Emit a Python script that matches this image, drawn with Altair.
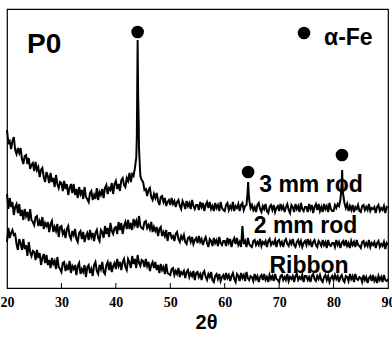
import altair as alt
import pandas as pd

# 2-theta scan grid (degrees), 0.25 deg step from 20 to 90
two_theta = [20 + 0.25 * i for i in range(281)]

# Diffracted intensity (arb. units), one row per 5 degrees
counts_3mm = [
    158, 145, 147, 139, 147, 151, 138, 134, 140, 135, 140, 129, 124, 132, 133, 124, 130, 119, 123, 125,
    117, 126, 118, 121, 111, 118, 120, 111, 106, 116, 112, 105, 115, 106, 110, 101, 113, 104, 100, 106,
    105, 97, 107, 99, 104, 93, 100, 104, 95, 104, 93, 99, 90, 101, 94, 98, 89, 101, 91, 89,
    86, 95, 97, 88, 93, 89, 100, 88, 96, 93, 99, 90, 100, 103, 94, 100, 98, 105, 94, 104,
    107, 99, 104, 97, 108, 110, 103, 101, 110, 107, 115, 106, 114, 112, 120, 130, 248, 140, 112, 108,
    106, 98, 99, 92, 98, 100, 91, 88, 94, 90, 95, 87, 83, 91, 92, 86, 90, 82, 86, 88,
    83, 90, 84, 87, 81, 86, 88, 82, 79, 87, 84, 79, 87, 82, 85, 79, 88, 82, 79, 83,
    83, 78, 86, 81, 85, 77, 83, 86, 80, 86, 79, 82, 77, 85, 80, 83, 77, 86, 80, 78,
    77, 83, 85, 78, 82, 79, 86, 77, 82, 80, 84, 77, 83, 85, 78, 82, 83, 100, 88, 80,
    83, 78, 81, 76, 83, 85, 79, 76, 82, 79, 84, 77, 75, 81, 83, 78, 83, 76, 80, 82,
    77, 84, 79, 82, 76, 81, 84, 78, 75, 83, 81, 76, 84, 79, 82, 76, 85, 79, 77, 81,
    81, 76, 84, 79, 83, 75, 81, 84, 78, 84, 77, 81, 76, 84, 79, 82, 76, 85, 79, 77,
    77, 83, 80, 84, 82, 88, 108, 94, 85, 80, 84, 77, 82, 78, 83, 76, 81, 79, 83, 77,
    76, 82, 83, 78, 81, 78, 84, 77, 80, 79, 81, 75, 81, 83, 77, 80, 78, 82, 75, 81,
    80,
]
counts_2mm = [
    94, 79, 90, 81, 86, 73, 81, 84, 75, 84, 72, 78, 68, 79, 72, 76, 67, 79, 68, 66,
    63, 71, 72, 62, 67, 62, 71, 59, 65, 62, 66, 56, 64, 67, 56, 61, 57, 64, 51, 61,
    62, 54, 57, 50, 59, 62, 52, 49, 57, 53, 59, 49, 46, 55, 57, 49, 56, 46, 52, 55,
    48, 58, 51, 55, 47, 55, 58, 50, 47, 58, 56, 50, 62, 54, 60, 51, 65, 57, 54, 60,
    61, 54, 66, 58, 65, 54, 62, 66, 59, 68, 59, 65, 58, 69, 63, 67, 60, 72, 62, 60,
    59, 66, 67, 60, 63, 59, 66, 56, 61, 57, 61, 52, 59, 61, 52, 56, 52, 58, 47, 55,
    55, 50, 52, 47, 54, 56, 49, 46, 52, 49, 53, 46, 44, 50, 51, 46, 51, 44, 48, 50,
    45, 52, 46, 49, 43, 48, 51, 45, 41, 49, 47, 42, 50, 45, 48, 42, 51, 45, 43, 47,
    47, 42, 50, 45, 49, 41, 47, 50, 44, 50, 43, 46, 41, 62, 44, 47, 41, 50, 44, 42,
    41, 47, 48, 43, 46, 43, 49, 42, 46, 44, 47, 41, 47, 49, 43, 46, 44, 48, 41, 47,
    48, 43, 46, 41, 47, 49, 44, 42, 47, 44, 49, 43, 41, 46, 48, 43, 47, 41, 45, 47,
    43, 49, 44, 47, 41, 46, 48, 43, 41, 47, 45, 42, 48, 43, 46, 40, 48, 43, 42, 45,
    45, 41, 48, 43, 46, 40, 45, 47, 42, 48, 42, 45, 40, 47, 43, 46, 41, 48, 43, 42,
    40, 46, 47, 42, 45, 42, 48, 41, 45, 43, 46, 40, 45, 47, 41, 44, 42, 46, 39, 45,
    43,
]
counts_ribbon = [
    46, 60, 50, 55, 58, 53, 54, 44, 38, 49, 45, 38, 49, 39, 43, 32, 46, 36, 32, 37,
    36, 28, 38, 30, 35, 23, 30, 34, 25, 33, 23, 28, 20, 30, 24, 27, 19, 31, 21, 19,
    16, 25, 26, 17, 22, 18, 27, 15, 22, 19, 23, 13, 22, 25, 14, 19, 16, 23, 11, 21,
    23, 15, 19, 12, 23, 26, 17, 14, 23, 19, 26, 16, 14, 23, 26, 18, 26, 16, 22, 25,
    19, 29, 22, 26, 18, 26, 29, 21, 18, 29, 26, 20, 32, 24, 29, 20, 33, 25, 22, 28,
    27, 21, 29, 22, 26, 17, 23, 26, 20, 26, 18, 23, 15, 24, 18, 21, 14, 24, 15, 14,
    13, 19, 20, 13, 17, 14, 20, 11, 16, 14, 17, 10, 16, 18, 11, 15, 12, 17, 8, 15,
    16, 11, 14, 8, 15, 17, 11, 8, 14, 11, 16, 8, 6, 12, 14, 9, 14, 7, 11, 13,
    8, 15, 10, 13, 7, 12, 15, 9, 6, 14, 12, 7, 15, 10, 13, 7, 16, 10, 8, 12,
    11, 7, 14, 9, 12, 6, 11, 13, 8, 14, 8, 11, 6, 13, 9, 12, 7, 14, 9, 8,
    6, 12, 13, 8, 11, 8, 14, 7, 11, 9, 12, 6, 12, 14, 8, 11, 9, 13, 6, 12,
    12, 8, 11, 6, 12, 14, 9, 7, 12, 9, 13, 8, 6, 11, 13, 8, 12, 6, 10, 12,
    8, 13, 9, 12, 6, 11, 13, 8, 6, 12, 11, 7, 14, 9, 12, 6, 14, 9, 8, 11,
    10, 6, 13, 8, 11, 5, 10, 12, 7, 13, 7, 10, 5, 12, 8, 11, 6, 13, 8, 7,
    9,
]

# Finer sampling across the alpha-Fe reflections of the 3 mm rod
peak_theta_3mm = [43.85, 43.95, 44.1, 44.2, 64.15, 64.3, 64.4, 81.4, 81.58, 81.68]
peak_counts_3mm = [150, 215, 190, 165, 92, 106, 96, 97, 118, 100]

# alpha-Fe markers above the reflections, plus the key marker
fe_theta = [44.0, 64.3, 81.55, 74.57]
fe_counts = [256, 116, 133, 255]

sample_names = ["3 mm rod", "2 mm rod", "Ribbon"]
sample_label_theta = [75.85, 74.84, 75.48]
sample_label_counts = [103, 62, 22]

tick_theta = [30, 40, 50, 60, 70, 80]
axis_values = [20, 30, 40, 50, 60, 70, 80, 90]

rows = []
for name, vals in zip(sample_names, [counts_3mm, counts_2mm, counts_ribbon]):
    for t, c in zip(two_theta, vals):
        rows.append({"two_theta": t, "counts": c, "sample": name})
for t, c in zip(peak_theta_3mm, peak_counts_3mm):
    rows.append({"two_theta": t, "counts": c, "sample": "3 mm rod"})
scan = pd.DataFrame(rows)

x_scale = alt.Scale(domain=[20, 90], nice=False, zero=False)
y_scale = alt.Scale(domain=[0, 279], nice=False, zero=False)

x_enc = alt.X(
    "two_theta:Q",
    scale=x_scale,
    axis=alt.Axis(
        values=axis_values,
        title="2θ",
        titleFont="Liberation Sans",
        titleFontSize=20,
        titleFontWeight="bold",
        titleColor="black",
        titlePadding=3,
        titleX=199,
        labelFont="Liberation Serif",
        labelFontSize=14,
        labelFontWeight="bold",
        labelColor="black",
        labelPadding=7,
        labelFlush=False,
        labelOverlap=False,
        ticks=False,
        tickSize=0,
        domain=False,
        grid=False,
    ),
)
y_enc = alt.Y("counts:Q", scale=y_scale, axis=None)

lines = alt.Chart(scan).mark_line(color="black", strokeWidth=2).encode(
    x=x_enc, y=y_enc, detail="sample:N"
)

ticks = alt.Chart(pd.DataFrame({"t": tick_theta})).mark_rule(
    color="black", strokeWidth=1
).encode(
    x=alt.X("t:Q", scale=x_scale),
    y=alt.datum(0, scale=y_scale),
    y2=alt.datum(5),
)

fe_dots = alt.Chart(pd.DataFrame({"t": fe_theta, "c": fe_counts})).mark_point(
    filled=True, shape="circle", size=160, color="black", opacity=1
).encode(x=alt.X("t:Q", scale=x_scale), y=alt.Y("c:Q", scale=y_scale))

sample_text = alt.Chart(
    pd.DataFrame({"t": sample_label_theta, "c": sample_label_counts, "label": sample_names})
).mark_text(
    font="Liberation Sans", fontSize=23, fontWeight="bold", color="black",
    align="center", baseline="middle"
).encode(
    x=alt.X("t:Q", scale=x_scale), y=alt.Y("c:Q", scale=y_scale), text="label:N"
)

legend_text = alt.Chart(pd.DataFrame({"t": [78.24], "c": [250], "label": ["α-Fe"]})).mark_text(
    font="Liberation Sans", fontSize=23, fontWeight="bold", color="black",
    align="left", baseline="middle"
).encode(
    x=alt.X("t:Q", scale=x_scale), y=alt.Y("c:Q", scale=y_scale), text="label:N"
)

title_text = alt.Chart(pd.DataFrame({"t": [23.67], "c": [243], "label": ["P0"]})).mark_text(
    font="Liberation Sans", fontSize=28, fontWeight="bold", color="black",
    align="left", baseline="middle"
).encode(
    x=alt.X("t:Q", scale=x_scale), y=alt.Y("c:Q", scale=y_scale), text="label:N"
)

chart = alt.layer(lines, ticks, fe_dots, sample_text, legend_text, title_text).properties(
    width=381,
    height=279,
    autosize=alt.AutoSizeParams(type="none"),
    padding={"left": 7, "top": 9, "right": 4, "bottom": 55},
    background="white",
).configure_view(stroke="black", strokeWidth=1.2)

chart.save("out.html", embed_options={"renderer": "svg", "actions": False})
